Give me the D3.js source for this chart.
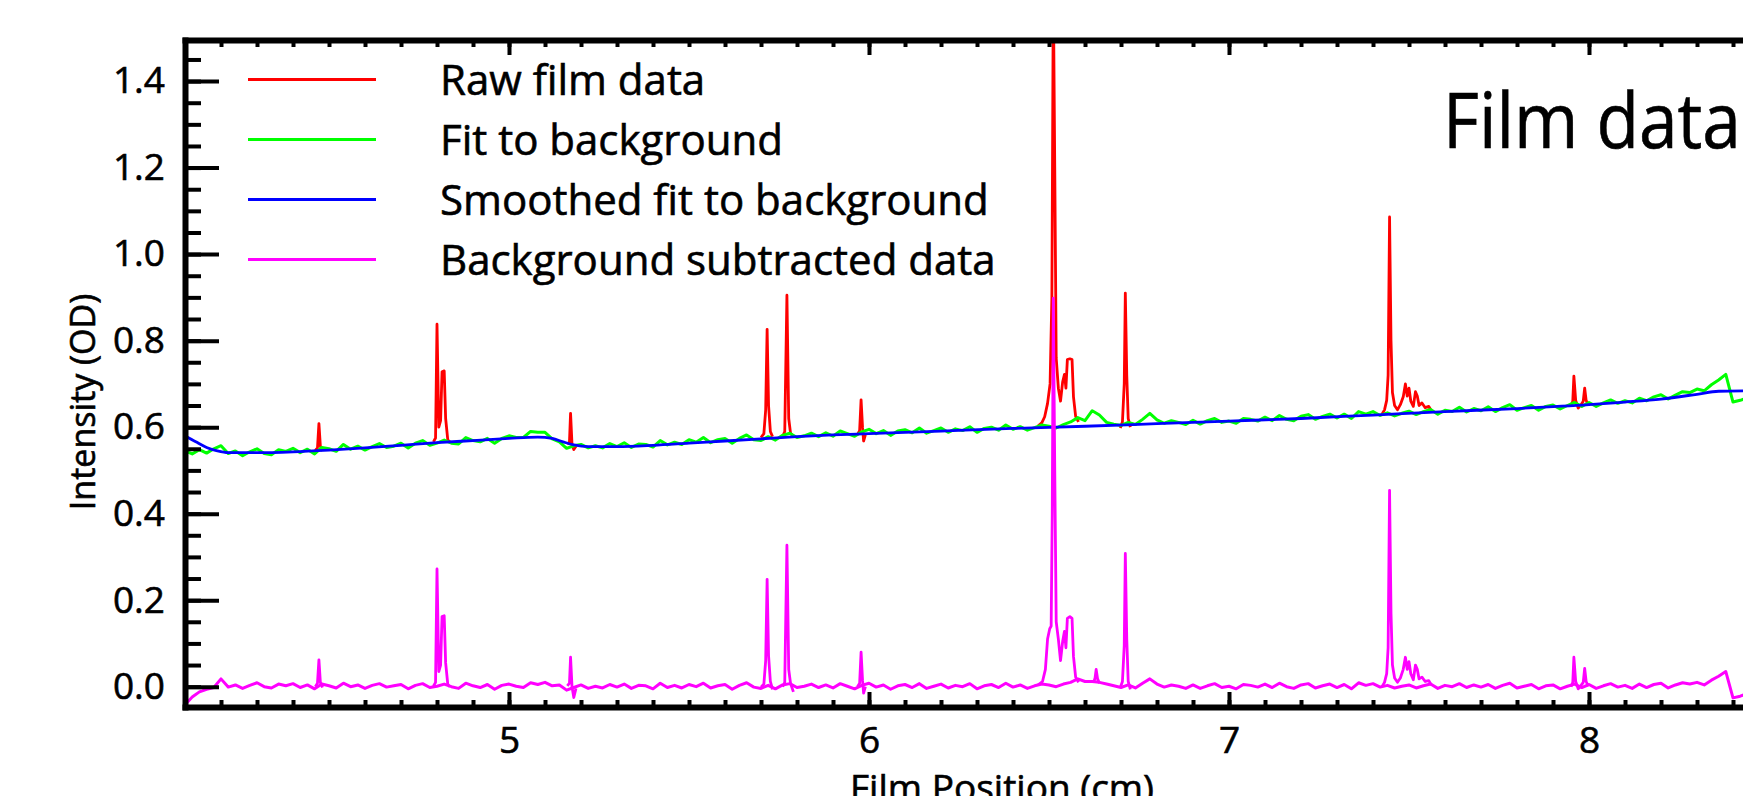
<!DOCTYPE html>
<html>
<head>
<meta charset="utf-8">
<script src="https://cdn.jsdelivr.net/npm/d3@7"></script>
<style>
body { margin: 0; background: #fff; overflow: hidden; }
svg { display: block; font-family: "Open Sans", sans-serif; }
svg text { stroke: #000; stroke-width: 0.6px; }
.axis .domain { stroke: #000; stroke-width: 6; stroke-linecap: square; }
.axis .tick line { stroke: #000; stroke-width: 4; }
</style>
</head>
<body>
<div id="chart"></div>
<script>
// sampled traces, sample i sits at x = gridStart + i * gridStep (cm)
var gridStart = 4.10, gridStep = 0.02;

// green: fit to background
var fitBackground = [
	0.545, 0.538, 0.548, 0.540, 0.550, 0.557, 0.539, 0.545, 0.534, 0.543,
	0.550, 0.539, 0.536, 0.548, 0.544, 0.551, 0.541, 0.549, 0.538, 0.553,
	0.550, 0.544, 0.560, 0.549, 0.556, 0.547, 0.555, 0.562, 0.553, 0.556,
	0.563, 0.552, 0.563, 0.569, 0.558, 0.563, 0.570, 0.563, 0.561, 0.576,
	0.569, 0.566, 0.574, 0.563, 0.574, 0.580, 0.576, 0.576, 0.590, 0.588,
	0.588, 0.573, 0.566, 0.551, 0.557, 0.560, 0.552, 0.557, 0.552, 0.562,
	0.555, 0.564, 0.553, 0.561, 0.560, 0.554, 0.569, 0.559, 0.565, 0.560,
	0.571, 0.565, 0.576, 0.564, 0.571, 0.574, 0.563, 0.574, 0.582, 0.571,
	0.569, 0.578, 0.570, 0.581, 0.586, 0.576, 0.580, 0.586, 0.578, 0.587,
	0.579, 0.591, 0.585, 0.579, 0.589, 0.595, 0.585, 0.592, 0.581, 0.591,
	0.594, 0.587, 0.598, 0.586, 0.592, 0.598, 0.588, 0.596, 0.592, 0.601,
	0.588, 0.597, 0.600, 0.593, 0.605, 0.595, 0.601, 0.593, 0.599, 0.605,
	0.602, 0.598, 0.606, 0.612, 0.622, 0.615, 0.638, 0.628, 0.611, 0.607,
	0.604, 0.611, 0.606, 0.618, 0.632, 0.617, 0.609, 0.615, 0.611, 0.606,
	0.616, 0.607, 0.615, 0.620, 0.611, 0.614, 0.609, 0.620, 0.618, 0.614,
	0.623, 0.615, 0.627, 0.618, 0.615, 0.625, 0.629, 0.618, 0.625, 0.630,
	0.621, 0.630, 0.620, 0.636, 0.630, 0.636, 0.627, 0.633, 0.626, 0.632,
	0.637, 0.629, 0.636, 0.641, 0.630, 0.639, 0.636, 0.646, 0.635, 0.643,
	0.638, 0.647, 0.636, 0.645, 0.652, 0.639, 0.645, 0.650, 0.639, 0.648,
	0.651, 0.642, 0.650, 0.657, 0.648, 0.657, 0.648, 0.656, 0.663, 0.655,
	0.661, 0.656, 0.667, 0.661, 0.670, 0.675, 0.665, 0.674, 0.682, 0.680,
	0.688, 0.684, 0.698, 0.709, 0.722, 0.658, 0.662, 0.668, 0.665
];

// magenta: background subtracted data (baseline part)
var subtracted = [
	-0.042, -0.024, -0.012, -0.006, -0.002, 0.018, -0.001, 0.004, -0.004, 0.003,
	0.009, 0.000, -0.003, 0.006, 0.002, 0.007, -0.002, 0.004, -0.005, 0.006,
	0.002, -0.003, 0.008, 0.000, 0.004, -0.004, 0.003, 0.007, -0.001, 0.002,
	0.005, -0.005, 0.003, 0.007, -0.002, 0.001, 0.006, 0.000, -0.004, 0.008,
	0.002, -0.002, 0.005, -0.006, 0.003, 0.006, 0.001, -0.002, 0.009, 0.005,
	0.010, 0.002, 0.004, -0.008, -0.002, 0.004, -0.004, 0.001, -0.003, 0.005,
	-0.001, 0.006, -0.004, 0.003, 0.002, -0.005, 0.008, -0.002, 0.003, -0.003,
	0.005, 0.000, 0.008, -0.003, 0.002, 0.005, -0.006, 0.003, 0.009, -0.001,
	-0.004, 0.003, -0.005, 0.004, 0.007, -0.002, 0.001, 0.006, -0.002, 0.004,
	-0.003, 0.007, 0.001, -0.005, 0.003, 0.008, -0.001, 0.004, -0.006, 0.002,
	0.005, -0.002, 0.007, -0.004, 0.001, 0.006, -0.003, 0.003, 0.000, 0.007,
	-0.005, 0.002, 0.005, -0.002, 0.008, -0.001, 0.004, -0.004, 0.002, 0.006,
	0.004, 0.000, 0.006, 0.010, 0.018, 0.012, 0.012, 0.010, 0.006, 0.002,
	-0.002, 0.004, -0.003, 0.008, 0.018, 0.006, -0.001, 0.004, 0.001, -0.004,
	0.004, -0.004, 0.002, 0.007, -0.002, 0.001, -0.005, 0.005, 0.003, -0.001,
	0.006, -0.002, 0.008, 0.000, -0.004, 0.004, 0.007, -0.003, 0.002, 0.006,
	-0.002, 0.005, -0.005, 0.009, 0.003, 0.007, -0.001, 0.003, -0.003, 0.001,
	0.004, -0.003, 0.002, 0.006, -0.004, 0.003, 0.000, 0.007, -0.002, 0.004,
	-0.001, 0.005, -0.004, 0.003, 0.008, -0.003, 0.001, 0.005, -0.005, 0.002,
	0.004, -0.005, 0.001, 0.006, -0.002, 0.005, -0.004, 0.002, 0.007, -0.001,
	0.003, -0.004, 0.006, -0.002, 0.005, 0.008, -0.003, 0.004, 0.009, 0.006,
	0.010, 0.004, 0.015, 0.024, 0.035, -0.026, -0.022, -0.016, -0.018
];

// red: raw film data around the lines, [x, OD]; null separates the peaks
var rawPeaks = [
	[4.462, 0.546], [4.468, 0.552], [4.472, 0.608], [4.476, 0.556], [4.482, 0.545], null,
	[4.790, 0.566], [4.796, 0.575], [4.800, 0.838], [4.805, 0.600], [4.810, 0.615], [4.814, 0.728],
	[4.820, 0.730], [4.824, 0.620], [4.830, 0.570], [4.836, 0.566], null,
	[5.162, 0.560], [5.168, 0.566], [5.171, 0.632], [5.175, 0.560], [5.180, 0.548], [5.186, 0.556], null,
	[5.700, 0.576], [5.708, 0.585], [5.713, 0.640], [5.717, 0.826], [5.721, 0.650], [5.726, 0.590], [5.732, 0.578], null,
	[5.760, 0.578], [5.766, 0.590], [5.772, 0.905], [5.777, 0.620], [5.782, 0.586], [5.790, 0.579], null,
	[5.968, 0.583], [5.974, 0.592], [5.978, 0.663], [5.982, 0.600], [5.985, 0.568], [5.990, 0.582], null,
	[6.470, 0.603], [6.480, 0.610], [6.488, 0.624], [6.496, 0.655], [6.503, 0.700], [6.508, 0.900],
	[6.512, 1.620], [6.516, 1.200], [6.520, 0.760], [6.526, 0.690], [6.532, 0.660],
	[6.538, 0.705], [6.543, 0.722], [6.547, 0.690], [6.551, 0.756], [6.558, 0.758], [6.564, 0.756],
	[6.568, 0.670], [6.574, 0.625], [6.582, 0.612], null,
	[6.698, 0.598], [6.704, 0.612], [6.709, 0.700], [6.712, 0.910], [6.716, 0.720], [6.720, 0.620], [6.726, 0.600], null,
	[7.425, 0.630], [7.432, 0.640], [7.438, 0.662], [7.442, 0.720], [7.446, 1.086], [7.450, 0.800],
	[7.454, 0.680], [7.460, 0.650], [7.468, 0.640], [7.476, 0.652], [7.484, 0.670], [7.490, 0.700],
	[7.495, 0.672], [7.500, 0.690], [7.505, 0.660], [7.512, 0.648], [7.518, 0.682], [7.523, 0.672],
	[7.528, 0.650], [7.536, 0.656], [7.545, 0.645], [7.555, 0.648], [7.562, 0.638], null,
	[7.950, 0.650], [7.955, 0.660], [7.958, 0.718], [7.963, 0.662], [7.970, 0.644], [7.978, 0.652],
	[7.984, 0.660], [7.988, 0.690], [7.992, 0.662], [7.998, 0.650]
];

// magenta: background subtracted data around the lines
var subPeaks = [
	[4.462, 0.000], [4.468, 0.008], [4.472, 0.062], [4.476, 0.010], [4.482, -0.002], null,
	[4.790, 0.001], [4.796, 0.010], [4.800, 0.272], [4.805, 0.035], [4.810, 0.050], [4.814, 0.162],
	[4.820, 0.164], [4.824, 0.055], [4.830, 0.005], [4.836, 0.000], null,
	[5.162, 0.002], [5.168, 0.008], [5.171, 0.068], [5.175, 0.000], [5.180, -0.025], [5.186, -0.004], null,
	[5.700, -0.001], [5.708, 0.006], [5.713, 0.060], [5.717, 0.248], [5.721, 0.072], [5.726, 0.012], [5.732, -0.006], null,
	[5.760, 0.000], [5.766, 0.010], [5.772, 0.327], [5.777, 0.040], [5.782, 0.008], [5.790, -0.012], null,
	[5.968, 0.000], [5.974, 0.008], [5.978, 0.080], [5.982, 0.015], [5.985, -0.015], [5.990, 0.000], null,
	[6.470, 0.004], [6.482, 0.012], [6.490, 0.040], [6.496, 0.110], [6.502, 0.134], [6.506, 0.140],
	[6.509, 0.400], [6.512, 0.898], [6.516, 0.500], [6.520, 0.150], [6.526, 0.110],
	[6.532, 0.060], [6.538, 0.105], [6.543, 0.128], [6.547, 0.090], [6.551, 0.158], [6.558, 0.162],
	[6.564, 0.158], [6.568, 0.070], [6.574, 0.022], [6.582, 0.010], null,
	[6.624, 0.010], [6.628, 0.020], [6.631, 0.040], [6.635, 0.018], [6.640, 0.008], null,
	[6.698, -0.002], [6.704, 0.012], [6.709, 0.095], [6.712, 0.308], [6.716, 0.110], [6.720, 0.012], [6.726, -0.006], null,
	[7.425, 0.000], [7.432, 0.010], [7.438, 0.030], [7.442, 0.090], [7.446, 0.454], [7.450, 0.170],
	[7.454, 0.050], [7.460, 0.020], [7.468, 0.010], [7.476, 0.020], [7.484, 0.040], [7.490, 0.068],
	[7.495, 0.040], [7.500, 0.058], [7.505, 0.030], [7.512, 0.016], [7.518, 0.050], [7.523, 0.040],
	[7.528, 0.018], [7.536, 0.022], [7.545, 0.012], [7.555, 0.014], [7.562, 0.004], null,
	[7.950, 0.000], [7.955, 0.010], [7.958, 0.068], [7.963, 0.012], [7.970, -0.005], [7.978, 0.003],
	[7.984, 0.010], [7.988, 0.042], [7.992, 0.012], [7.998, 0.001]
];

// blue: smoothed fit to background
var smoothX = [4.10, 4.13, 4.16, 4.19, 4.22, 4.30, 4.40, 4.50, 4.60, 4.70, 4.80, 4.90, 5.00, 5.08,
	5.12, 5.15, 5.18, 5.22, 5.30, 5.40, 5.50, 5.60, 5.70, 5.80, 5.90, 6.00, 6.20, 6.40, 6.60,
	6.80, 7.00, 7.20, 7.40, 7.60, 7.80, 8.00, 8.10, 8.20, 8.30, 8.36, 8.46];
var smoothY = [0.580, 0.566, 0.553, 0.545, 0.541, 0.541, 0.543, 0.547, 0.552, 0.558, 0.564, 0.569, 0.574, 0.577,
	0.574, 0.566, 0.559, 0.555, 0.555, 0.558, 0.563, 0.568, 0.573, 0.578, 0.582, 0.585, 0.591, 0.597, 0.602,
	0.608, 0.614, 0.620, 0.628, 0.636, 0.643, 0.652, 0.658, 0.665, 0.676, 0.683, 0.684];

var legendLabels = ["Raw film data", "Fit to background", "Smoothed fit to background", "Background subtracted data"];
var legendColors = ["#ff0000", "#00ff00", "#0000ff", "#ff00ff"];

var xMajor = [5, 6, 7, 8];
var yMajor = [0.0, 0.2, 0.4, 0.6, 0.8, 1.0, 1.2, 1.4];

var width = 1743, height = 796;
var plot = {left: 185, right: 1805, top: 40, bottom: 707};

var x = d3.scaleLinear().domain([4.1, 8.6]).range([plot.left, plot.right]);
var y = d3.scaleLinear().domain([-0.047, 1.495]).range([plot.bottom, plot.top]);

var xMinor = d3.range(42, 86).map(function(v) { return v / 10; });
var yMinor = d3.range(0, 30).map(function(v) { return v * 0.05; });

var svg = d3.select("#chart").append("svg")
	.attr("width", width)
	.attr("height", height);

svg.append("clipPath").attr("id", "plotclip")
  .append("rect")
	.attr("x", plot.left).attr("y", plot.top)
	.attr("width", plot.right - plot.left).attr("height", plot.bottom - plot.top);

function onGrid(values) {
	return values.map(function(v, i) { return [gridStart + i * gridStep, v]; });
}

var line = d3.line()
	.defined(function(d) { return d !== null; })
	.x(function(d) { return x(d[0]); })
	.y(function(d) { return y(d[1]); });

var smoothLine = d3.line()
	.curve(d3.curveMonotoneX)
	.x(function(d) { return x(d[0]); })
	.y(function(d) { return y(d[1]); });

var traces = svg.append("g").attr("clip-path", "url(#plotclip)");

traces.append("path").datum(rawPeaks)
	.attr("d", line).attr("fill", "none").attr("stroke", legendColors[0])
	.attr("stroke-width", 2.8).attr("stroke-linejoin", "round");

traces.append("path").datum(onGrid(fitBackground))
	.attr("d", line).attr("fill", "none").attr("stroke", legendColors[1])
	.attr("stroke-width", 3).attr("stroke-linejoin", "round");

traces.append("path").datum(smoothX.map(function(v, i) { return [v, smoothY[i]]; }))
	.attr("d", smoothLine).attr("fill", "none").attr("stroke", legendColors[2])
	.attr("stroke-width", 2.8);

traces.append("path").datum(onGrid(subtracted))
	.attr("d", line).attr("fill", "none").attr("stroke", legendColors[3])
	.attr("stroke-width", 3).attr("stroke-linejoin", "round");

traces.append("path").datum(subPeaks)
	.attr("d", line).attr("fill", "none").attr("stroke", legendColors[3])
	.attr("stroke-width", 2.8).attr("stroke-linejoin", "round");

// axes: ticks point into the plot
function styleText(g, size) {
	g.attr("font-size", size).attr("font-family", "'Open Sans', sans-serif");
}

svg.append("g").attr("class", "axis")
	.attr("transform", "translate(" + plot.left + ",0)")
	.call(d3.axisLeft(y).tickValues(yMinor).tickSize(-16).tickSizeOuter(0).tickFormat(""))
	.call(function(g) { g.select(".domain").remove(); });

svg.append("g").attr("class", "axis")
	.attr("transform", "translate(0," + plot.bottom + ")")
	.call(d3.axisBottom(x).tickValues(xMinor).tickSize(-7).tickSizeOuter(0).tickFormat(""))
	.call(function(g) { g.select(".domain").remove(); });

svg.append("g").attr("class", "axis")
	.attr("transform", "translate(0," + plot.top + ")")
	.call(d3.axisTop(x).tickValues(xMinor).tickSize(-7).tickSizeOuter(0).tickFormat(""))
	.call(function(g) { g.select(".domain").remove(); });

svg.append("g").attr("class", "axis")
	.attr("transform", "translate(" + plot.left + ",0)")
	.call(d3.axisLeft(y).tickValues(yMajor).tickSize(-34).tickSizeOuter(0).tickPadding(20).tickFormat(d3.format(".1f")))
	.call(styleText, 37);

svg.append("g").attr("class", "axis")
	.attr("transform", "translate(0," + plot.bottom + ")")
	.call(d3.axisBottom(x).tickValues(xMajor).tickSize(-15).tickSizeOuter(0).tickPadding(20).tickFormat(d3.format("d")))
	.call(styleText, 37);

svg.append("g").attr("class", "axis")
	.attr("transform", "translate(0," + plot.top + ")")
	.call(d3.axisTop(x).tickValues(xMajor).tickSize(-15).tickSizeOuter(0).tickFormat(""));

// axis titles
svg.append("text")
	.attr("transform", "translate(95,402) rotate(-90)")
	.attr("text-anchor", "middle")
	.attr("font-size", 34)
	.text("Intensity (OD)");

svg.append("text")
	.attr("x", 850).attr("y", 801)
	.attr("font-size", 37)
	.text("Film Position (cm)");

svg.append("text")
	.attr("x", 816).attr("y", -7)
	.attr("font-size", 37)
	.text("Film Position (cm)");

svg.append("text")
	.attr("x", 1443).attr("y", 148)
	.attr("font-size", 76)
	.attr("textLength", 298)
	.attr("lengthAdjust", "spacingAndGlyphs")
	.text("Film data");

// legend
var legend = svg.append("g");
legendLabels.forEach(function(label, i) {
	var ly = 79.5 + i * 60;
	legend.append("line")
		.attr("x1", 248).attr("x2", 376)
		.attr("y1", ly).attr("y2", ly)
		.attr("stroke", legendColors[i]).attr("stroke-width", 3);
	legend.append("text")
		.attr("x", 440).attr("y", ly + 15.5)
		.attr("font-size", 42)
		.text(label);
});
</script>
</body>
</html>
